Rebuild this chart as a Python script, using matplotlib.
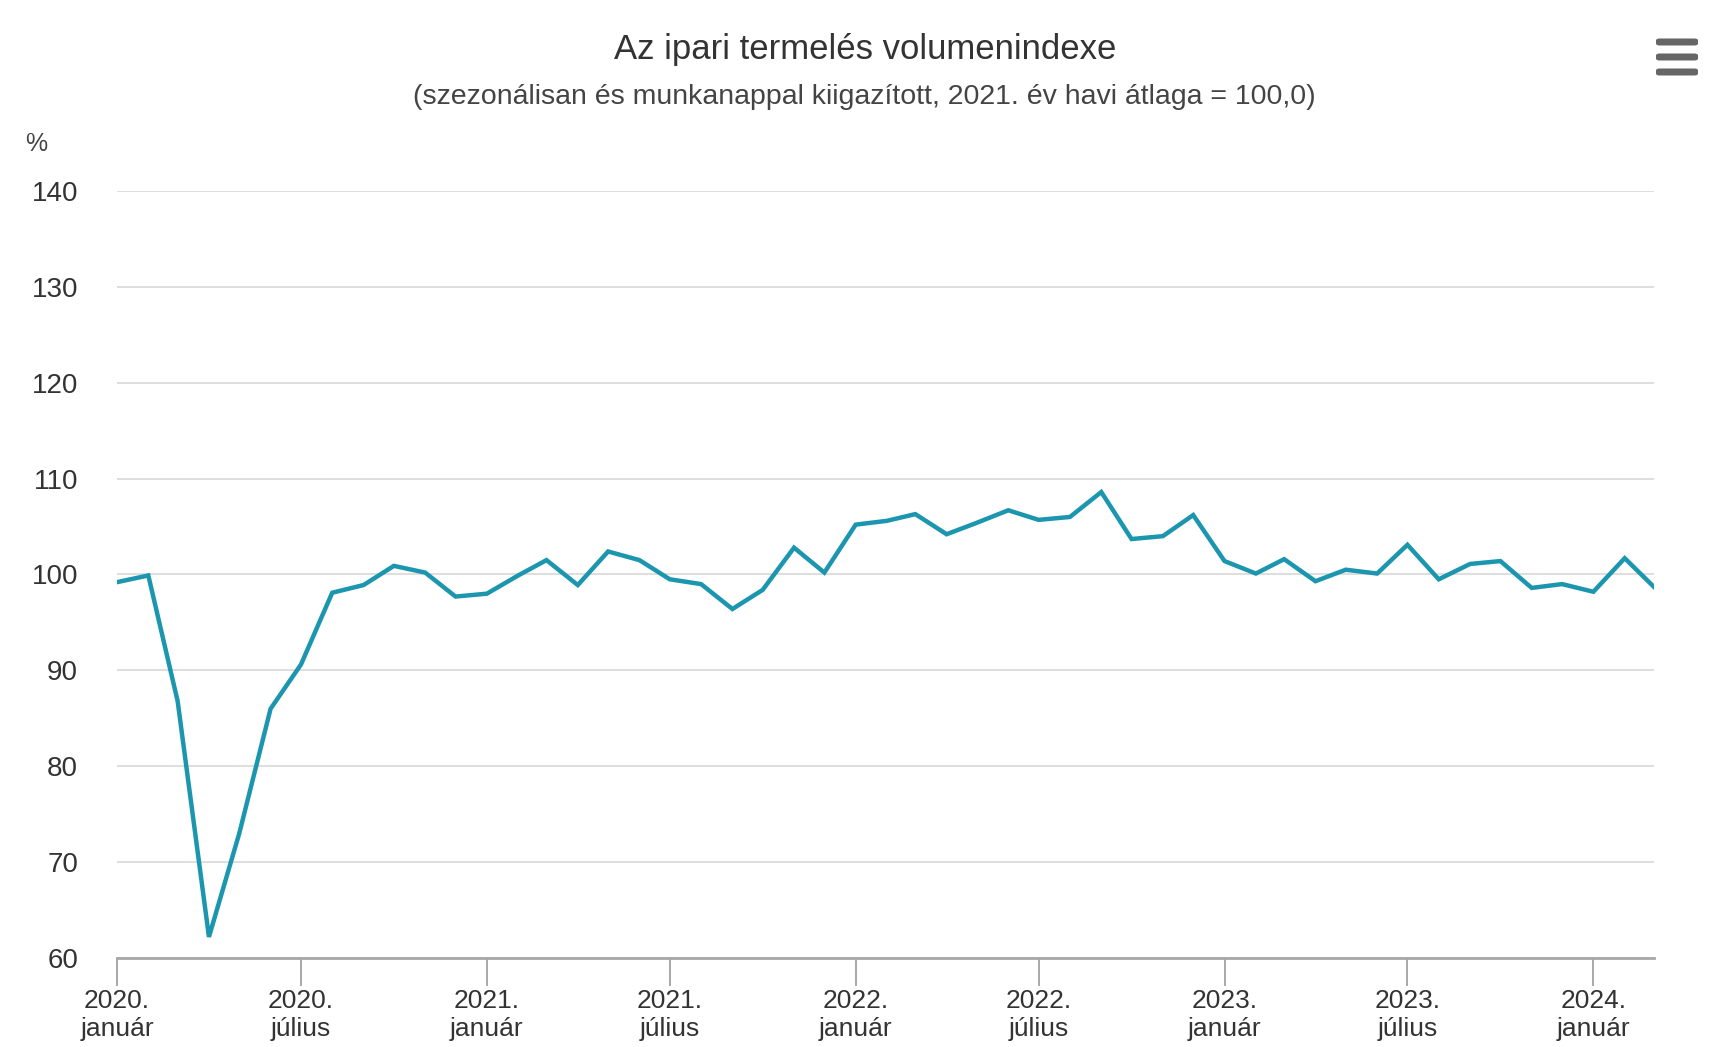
import numpy as np
import pandas as pd
import matplotlib
matplotlib.use("Agg")
import matplotlib.pyplot as plt
import matplotlib.dates as mdates
from matplotlib.patches import FancyBboxPatch

plt.rcParams['font.family'] = ['Liberation Sans', 'DejaVu Sans']

# monthly index, 2020 January .. 2024 March
months = pd.date_range("2020-01-01", "2024-03-01", freq="MS")
values = [
    99.2, 99.9, 86.8, 62.2, 73.0, 86.0, 90.6, 98.1, 98.9, 100.9, 100.2, 97.7,   # 2020
    98.0, 99.9, 101.5, 98.9, 102.4, 101.5, 99.5, 99.0, 96.4, 98.4, 102.8, 100.2,  # 2021
    105.2, 105.6, 106.3, 104.2, 105.4, 106.7, 105.7, 106.0, 108.6, 103.7, 104.0, 106.2,  # 2022
    101.4, 100.1, 101.6, 99.3, 100.5, 100.1, 103.1, 99.5, 101.1, 101.4, 98.6, 99.0,  # 2023
    98.2, 101.7, 98.7,  # 2024
]
tick_dates = pd.date_range("2020-01-01", "2024-01-01", freq="6MS")
month_names = {1: "január", 7: "július"}
tick_labels = [f"{d.year}.\n{month_names[d.month]}" for d in tick_dates]
y_ticks = [60, 70, 80, 90, 100, 110, 120, 130, 140]

title = "Az ipari termelés volumenindexe"
subtitle = "(szezonálisan és munkanappal kiigazított, 2021. év havi átlaga = 100,0)"

fig = plt.figure(figsize=(17.21, 10.47), dpi=100)
ax = fig.add_axes([117 / 1721, 89 / 1047, 1537 / 1721, 767 / 1047])

ax.plot(months, values, color="#1b96ae", linewidth=3.2, solid_joinstyle="miter")

ax.set_xlim(months[0], months[-1])
ax.set_ylim(60, 140)
ax.set_yticks(y_ticks)
ax.set_yticklabels([str(v) for v in y_ticks])
ax.set_xticks(tick_dates)
ax.set_xticklabels(tick_labels, linespacing=1.25)

ax.grid(axis="y", color="#dedede", linewidth=1.4)
ax.set_axisbelow(True)
for s in ["top", "right", "left"]:
    ax.spines[s].set_visible(False)
ax.spines["bottom"].set_color("#a8a8a8")
ax.spines["bottom"].set_linewidth(2.0)

ax.tick_params(axis="y", length=0, pad=28, labelsize=20, labelcolor="#333333")
ax.tick_params(axis="x", length=20, width=1.4, color="#a8a8a8", pad=2,
               labelsize=19, labelcolor="#333333")

fig.text(0.5025, 1 - 49 / 1047, title, ha="center", va="center",
         fontsize=25, color="#333333")
fig.text(0.5025, 1 - 97 / 1047, subtitle, ha="center", va="center",
         fontsize=20.5, color="#444444")
fig.text(36 / 1721, 1 - 144 / 1047, "%", ha="center", va="center",
         fontsize=18, color="#444444")

# export menu icon
for yc in [42, 57, 72]:
    fig.patches.append(FancyBboxPatch((1656 / 1721, 1 - (yc + 3.5) / 1047),
                                      42 / 1721, 7 / 1047,
                                      boxstyle="round,pad=0,rounding_size=0.002",
                                      transform=fig.transFigure,
                                      facecolor="#666666", edgecolor="none"))

fig.savefig("out.png", dpi=100, facecolor="white")
